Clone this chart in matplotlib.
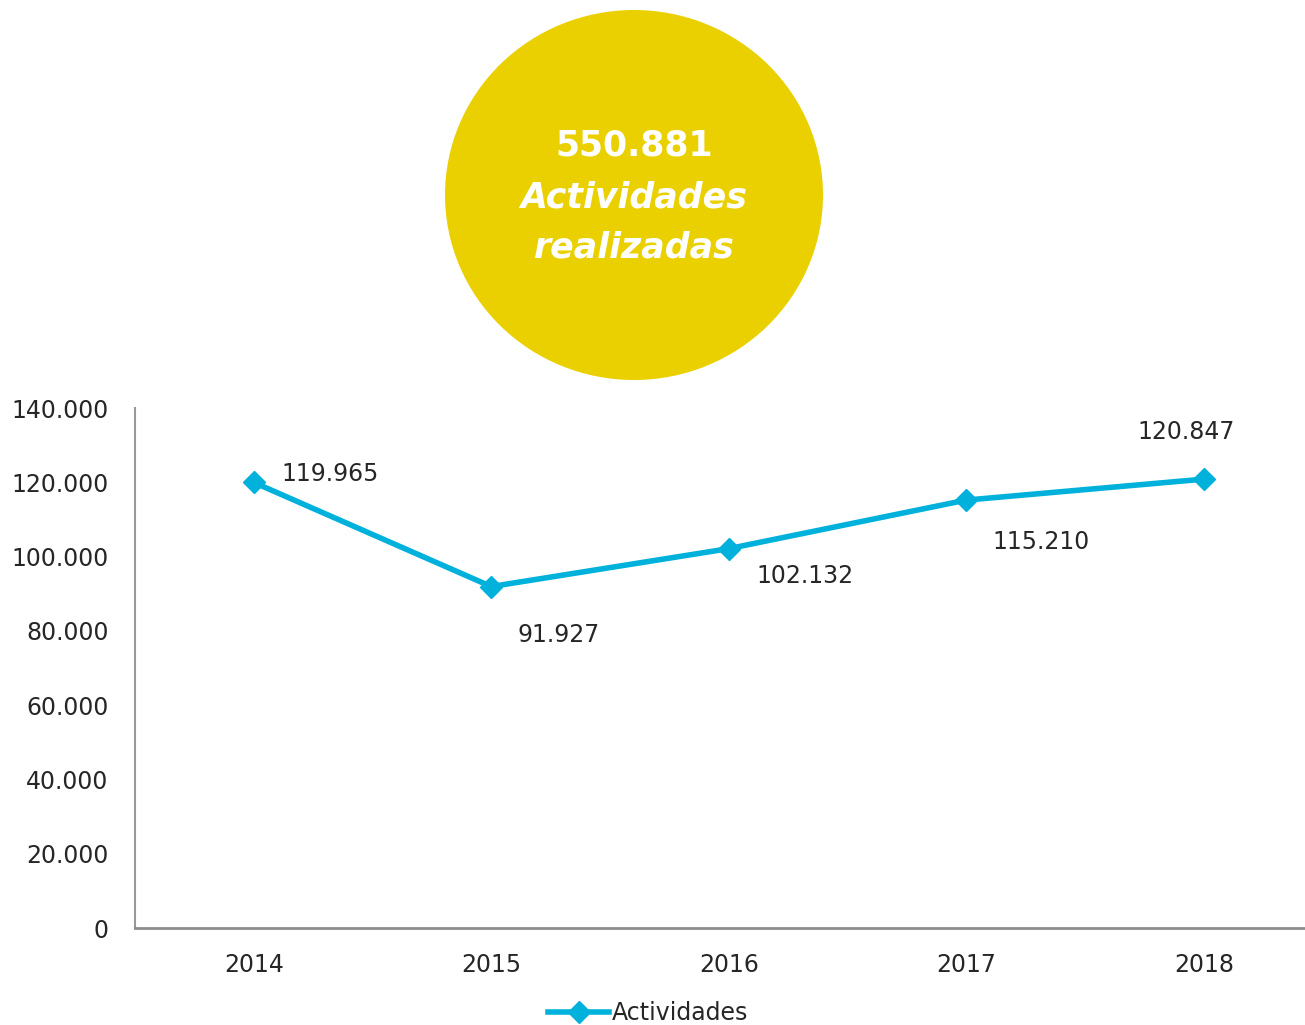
import matplotlib
matplotlib.use("Agg")
import matplotlib.pyplot as plt
from matplotlib.patches import Ellipse

# datos
years = ["2014", "2015", "2016", "2017", "2018"]
actividades = [119965, 91927, 102132, 115210, 120847]
etiquetas = ["119.965", "91.927", "102.132", "115.210", "120.847"]
yticks = [0, 20000, 40000, 60000, 80000, 100000, 120000, 140000]
ytick_labels = ["0", "20.000", "40.000", "60.000", "80.000", "100.000", "120.000", "140.000"]
total = "550.881"

# offsets de las etiquetas (puntos)
label_offsets = [(20, 6), (19, -35), (20, -20), (19, -30), (-47.5, 34)]

azul = "#00B2DB"
amarillo = "#EBD000"
texto = "#262626"

W, H = 1305, 1025
fig = plt.figure(figsize=(W / 100, H / 100), dpi=100)
ax = fig.add_axes([135 / W, 1 - 928 / H, 1187.5 / W, 520 / H])

x = list(range(len(years)))
ax.plot(x, actividades, color=azul, linewidth=4, marker="D", markersize=11,
        label="Actividades")
for xi, yi, lab, off in zip(x, actividades, etiquetas, label_offsets):
    ax.annotate(lab, (xi, yi), xytext=off, textcoords="offset points",
                fontsize=17, color=texto, ha="left", va="center")

ax.set_xlim(-0.5, 4.5)
ax.set_ylim(0, 140000)
ax.set_xticks(x)
ax.set_xticklabels(years, fontsize=17, color=texto)
ax.set_yticks(yticks)
ax.set_yticklabels(ytick_labels, fontsize=17, color=texto)
ax.tick_params(length=0)
ax.tick_params(axis="x", pad=18)
ax.tick_params(axis="y", pad=19)
for s in ["top", "right"]:
    ax.spines[s].set_visible(False)
ax.spines["left"].set_color("#999999")
ax.spines["bottom"].set_color("#8c8c8c")
ax.spines["left"].set_linewidth(1.5)
ax.spines["bottom"].set_linewidth(2)

leg = fig.legend(loc="center", bbox_to_anchor=(648 / W, 1 - 1013 / H), frameon=False,
                 fontsize=17, handlelength=2.6, handletextpad=0.1)
for t in leg.get_texts():
    t.set_color(texto)

# circulo con el total
circ = Ellipse((634 / W, 1 - 195 / H), 378 / W, 370 / H, transform=fig.transFigure,
               facecolor=amarillo, edgecolor="none")
fig.add_artist(circ)
fig.text(634 / W, 1 - 145 / H, total, fontsize=25, fontweight="bold", color="white",
         ha="center", va="center")
fig.text(634 / W, 1 - 197 / H, "Actividades", fontsize=25, fontweight="bold",
         style="italic", color="white", ha="center", va="center")
fig.text(634 / W, 1 - 248 / H, "realizadas", fontsize=25, fontweight="bold",
         style="italic", color="white", ha="center", va="center")

fig.savefig("out.png", dpi=100)
